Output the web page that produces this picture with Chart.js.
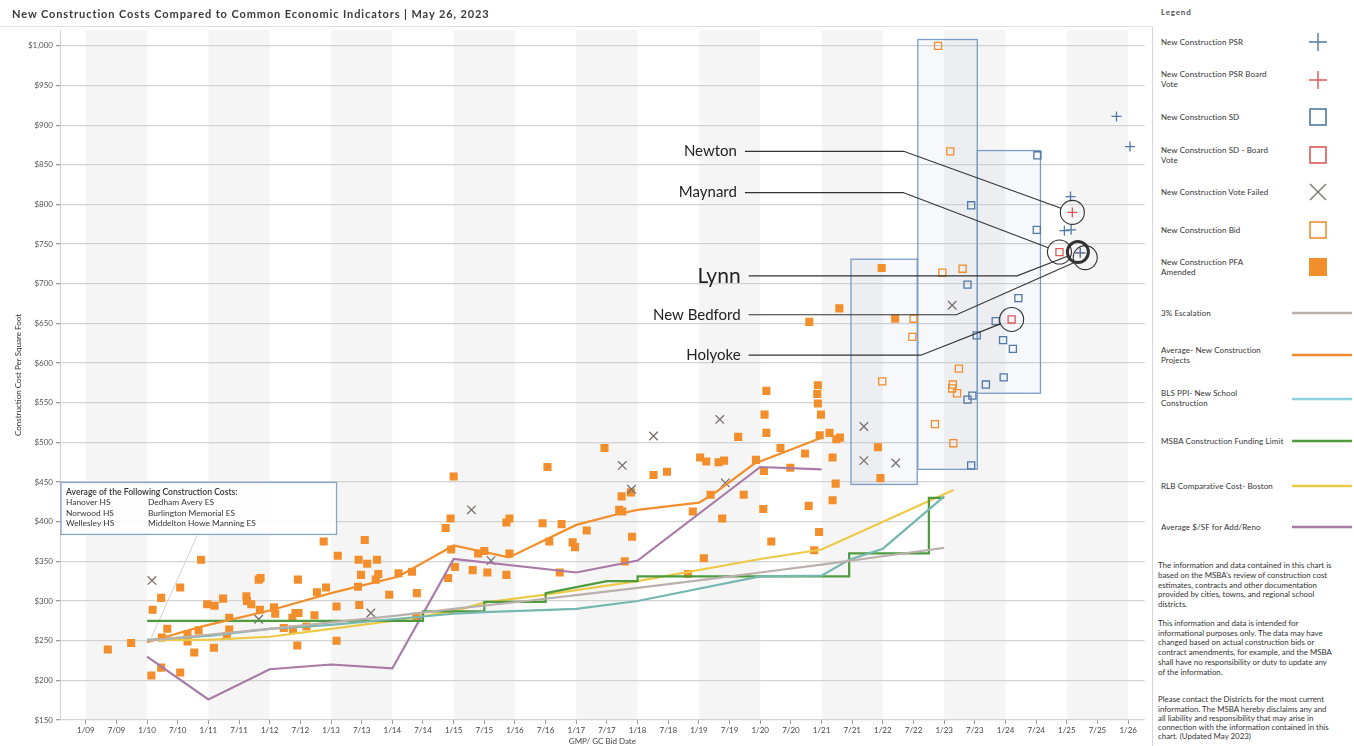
<!DOCTYPE html>
<html>
<head>
<meta charset="utf-8">
<script src="https://cdn.jsdelivr.net/npm/chart.js@4.4.0/dist/chart.umd.min.js"></script>
<style>
    body { margin: 0; background: #fff; font-family: Lato, "Open Sans", sans-serif; color: #333; }
    #wrap { position: relative; width: 1354px; height: 746px; overflow: hidden; background: #fff; }
    #chart { position: absolute; left: 0; top: 0; }
    #title { position: absolute; left: 12px; top: 7px; font-size: 11px; font-weight: 700; letter-spacing: 0.9px; color: #3a3a3a; white-space: nowrap; }
    #rule { position: absolute; left: 0; top: 26px; width: 1152px; border-top: 1px solid #e2e2e2; }
    #side { position: absolute; left: 1152px; top: 27px; width: 202px; height: 719px; border-left: 1px solid #d6d6d6; }
    .lg { position: absolute; left: 1161px; font-size: 8px; line-height: 10px; color: #333; white-space: nowrap; letter-spacing: 0.1px; }
    .mk { position: absolute; }
    #note { position: absolute; left: 1158px; top: 561px; font-size: 7.9px; line-height: 9.75px; color: #333; white-space: nowrap; }
    #note p { margin: 0; }
</style>
</head>
<body>
<div id="wrap">
    <canvas id="chart" width="1152" height="746"></canvas>
    <div id="title">New Construction Costs Compared to Common Economic Indicators | May 26, 2023</div>
    <div id="rule"></div>
    <div id="side"></div>

    <div class="lg" style="top:7px; font-weight:700; letter-spacing:0.8px; color:#555;">Legend</div>

    <div class="lg" style="top:37px">New Construction PSR</div>
    <svg class="mk" style="left:1308px; top:32px" width="20" height="20"><path d="M10 1V19M1 10H19" stroke="#4e79a7" stroke-width="1.4"/></svg>

    <div class="lg" style="top:69px">New Construction PSR Board<br>Vote</div>
    <svg class="mk" style="left:1308px; top:70px" width="20" height="20"><path d="M10 1V19M1 10H19" stroke="#e15759" stroke-width="1.4"/></svg>

    <div class="lg" style="top:112px">New Construction SD</div>
    <svg class="mk" style="left:1308px; top:107px" width="20" height="20"><rect x="2" y="2" width="16" height="16" fill="none" stroke="#4e79a7" stroke-width="1.6"/></svg>

    <div class="lg" style="top:145px">New Construction SD - Board<br>Vote</div>
    <svg class="mk" style="left:1308px; top:145px" width="20" height="20"><rect x="2" y="2" width="16" height="16" fill="none" stroke="#e15759" stroke-width="1.6"/></svg>

    <div class="lg" style="top:187px">New Construction Vote Failed</div>
    <svg class="mk" style="left:1308px; top:182px" width="20" height="20"><path d="M2 2L18 18M18 2L2 18" stroke="#79706e" stroke-width="1.3"/></svg>

    <div class="lg" style="top:225px">New Construction Bid</div>
    <svg class="mk" style="left:1308px; top:220px" width="20" height="20"><rect x="2" y="2" width="16" height="16" fill="none" stroke="#f28e2b" stroke-width="1.6"/></svg>

    <div class="lg" style="top:257px">New Construction PFA<br>Amended</div>
    <svg class="mk" style="left:1308px; top:257px" width="20" height="20"><rect x="1" y="1" width="18" height="18" fill="#f28e2b"/></svg>

    <div class="lg" style="top:308px">3% Escalation</div>
    <svg class="mk" style="left:1292px; top:310px" width="60" height="6"><path d="M0 3H60" stroke="#bab0ac" stroke-width="2.5"/></svg>

    <div class="lg" style="top:345px">Average- New Construction<br>Projects</div>
    <svg class="mk" style="left:1292px; top:352px" width="60" height="6"><path d="M0 3H60" stroke="#f28e2b" stroke-width="2.5"/></svg>

    <div class="lg" style="top:388px">BLS PPI- New School<br>Construction</div>
    <svg class="mk" style="left:1292px; top:396px" width="60" height="6"><path d="M0 3H60" stroke="#8fd1e3" stroke-width="2.5"/></svg>

    <div class="lg" style="top:436px">MSBA Construction Funding Limit</div>
    <svg class="mk" style="left:1292px; top:438px" width="60" height="6"><path d="M0 3H60" stroke="#4e9a3e" stroke-width="2.5"/></svg>

    <div class="lg" style="top:481px">RLB Comparative Cost- Boston</div>
    <svg class="mk" style="left:1292px; top:483px" width="60" height="6"><path d="M0 3H60" stroke="#edc948" stroke-width="2.5"/></svg>

    <div class="lg" style="top:522px">Average $/SF for Add/Reno</div>
    <svg class="mk" style="left:1292px; top:524px" width="60" height="6"><path d="M0 3H60" stroke="#a87aa5" stroke-width="2.5"/></svg>

    <div id="note">
        <p>The information and data contained in this chart is<br>based on the MSBA's review of construction cost<br>estimates, contracts and other documentation<br>provided by cities, towns, and regional school<br>districts.</p>
        <p style="margin-top:9px">This information and data is intended for<br>informational purposes only. The data may have<br>changed based on actual construction bids or<br>contract amendments, for example, and the MSBA<br>shall have no responsibility or duty to update any<br>of the information.</p>
        <p style="margin-top:18px; line-height:9.3px">Please contact the Districts for the most current<br>information. The MSBA hereby disclaims any and<br>all liability and responsibility that may arise in<br>connection with the information contained in this<br>chart. (Updated May 2023)</p>
    </div>
</div>

<script>
// x values are decimal years (2010.5 = July 2010), y values are $ per square foot
const xTickLabels = ["1/09", "7/09", "1/10", "7/10", "1/11", "7/11", "1/12", "7/12", "1/13", "7/13", "1/14", "7/14",
    "1/15", "7/15", "1/16", "7/16", "1/17", "7/17", "1/18", "7/18", "1/19", "7/19", "1/20", "7/20", "1/21", "7/21",
    "1/22", "7/22", "1/23", "7/23", "1/24", "7/24", "1/25", "7/25", "1/26"];
const yTickValues = [150, 200, 250, 300, 350, 400, 450, 500, 550, 600, 650, 700, 750, 800, 850, 900, 950, 1000];
const shadedYears = [2009, 2011, 2013, 2015, 2017, 2019, 2021, 2023, 2025];

const escalation = [[2010, 250], [2011, 257.5], [2012, 265], [2013, 273], [2014, 281], [2015, 290], [2016, 298.5],
    [2017, 307.5], [2018, 316.5], [2019, 326], [2020, 336], [2021, 346], [2022, 356.5], [2023, 367]];
const avgNewConstruction = [[2010, 248], [2010.9, 268], [2012, 288], [2013, 310], [2014.1, 331], [2015, 370],
    [2015.9, 355], [2017, 396], [2017.7, 410], [2018, 415], [2019, 424], [2019.2, 433], [2019.9, 473], [2021, 506]];
const blsPpi = [[2010, 251], [2011, 256], [2012, 265], [2013, 270], [2014, 277], [2015, 284], [2015.5, 286],
    [2017, 290], [2018, 300], [2020, 331], [2021, 332], [2021.45, 352], [2022, 366], [2023, 432]];
const msbaLimit = [[2010, 275], [2014.5, 275], [2014.5, 287], [2015.5, 287], [2015.5, 299], [2016.5, 299],
    [2016.5, 310], [2017.5, 325], [2018, 325], [2018, 331], [2021.45, 331], [2021.45, 360], [2022.75, 360],
    [2022.75, 430], [2023, 430]];
const rlbBoston = [[2010, 251], [2011, 251], [2012, 255], [2013, 265], [2014, 275], [2015, 287], [2015.5, 298],
    [2016.5, 308], [2018, 325], [2020, 353], [2021, 365], [2023.15, 440]];
const avgAddReno = [[2010, 230], [2011, 176], [2012, 214], [2013, 220], [2014, 215], [2015, 353], [2017, 336],
    [2018, 351], [2020, 469], [2021, 466]];

const pfaAmended = [[2009.36, 239], [2009.74, 247], [2010.07, 206], [2010.23, 216], [2010.54, 210], [2010.09, 289],
    [2010.23, 304], [2010.54, 317], [2010.33, 265], [2010.24, 254], [2010.88, 352], [2010.66, 258], [2010.66, 249],
    [2010.77, 235], [2010.84, 263], [2010.98, 296], [2011.10, 294], [2011.09, 241], [2011.24, 303], [2011.34, 279],
    [2011.34, 264], [2011.30, 256], [2011.62, 306], [2011.63, 300], [2011.70, 296], [2011.84, 289], [2011.82, 327],
    [2011.85, 329], [2012.07, 292], [2012.09, 284], [2012.23, 266], [2012.38, 264], [2012.37, 279], [2012.42, 285],
    [2012.47, 285], [2012.46, 327], [2012.45, 244], [2012.60, 268], [2012.73, 282], [2012.77, 311], [2012.88, 375],
    [2012.92, 317], [2013.09, 293], [2013.09, 250], [2013.11, 357], [2013.45, 352], [2013.55, 377], [2013.59, 347],
    [2013.75, 352], [2013.49, 333], [2013.44, 318], [2013.46, 295], [2013.77, 334], [2013.73, 327], [2013.95, 308],
    [2014.10, 335], [2014.32, 337], [2014.40, 310], [2014.39, 280], [2014.87, 392], [2014.95, 404], [2014.91, 329],
    [2014.96, 365], [2015.00, 457], [2015.02, 343], [2015.31, 339], [2015.55, 336], [2015.40, 360], [2015.50, 363],
    [2015.86, 333], [2015.91, 360], [2015.86, 399], [2015.91, 404], [2016.45, 398], [2016.53, 469], [2016.56, 375],
    [2016.76, 397], [2016.73, 336], [2016.94, 374], [2016.98, 368], [2017.17, 389], [2017.46, 493], [2017.74, 432],
    [2017.89, 437], [2017.70, 415], [2017.75, 413], [2017.91, 381], [2017.79, 350], [2018.26, 459], [2018.48, 463],
    [2018.90, 413], [2019.02, 481], [2019.12, 476], [2019.32, 475], [2019.41, 477], [2019.19, 434], [2019.08, 354],
    [2018.82, 334], [2019.64, 507], [2019.73, 434], [2019.38, 404], [2019.93, 478], [2020.06, 464], [2020.05, 416],
    [2020.10, 565], [2020.07, 535], [2020.10, 512], [2020.33, 493], [2020.18, 375], [2020.49, 468], [2020.73, 486],
    [2020.79, 420], [2020.88, 364], [2020.96, 387], [2020.94, 572], [2020.93, 561], [2020.94, 549], [2020.99, 535],
    [2020.97, 509], [2021.13, 512], [2021.24, 504], [2021.30, 506], [2021.18, 481], [2021.23, 448], [2021.18, 427],
    [2021.29, 669], [2020.80, 652], [2021.98, 720], [2022.20, 656], [2021.92, 494], [2021.96, 455]];
const constructionBid = [[2022.50, 656], [2022.48, 633], [2021.99, 577], [2022.90, 1000], [2023.10, 867],
    [2022.97, 714], [2023.30, 719], [2023.24, 593], [2023.14, 573], [2023.13, 568], [2023.21, 562], [2022.85, 523],
    [2023.15, 499]];
const constructionSD = [[2024.52, 862], [2023.44, 799], [2024.51, 768], [2023.38, 699], [2024.21, 682],
    [2023.84, 653], [2023.53, 635], [2023.96, 629], [2024.12, 618], [2023.97, 582], [2023.68, 573], [2023.46, 559],
    [2023.38, 554], [2023.44, 471]];
const sdBoardVote = [[2024.88, 740], [2024.10, 655]];
const constructionPSR = [[2025.81, 911], [2026.03, 873], [2025.06, 810], [2024.96, 767], [2025.07, 768], [2025.22, 739]];
const psrBoardVote = [[2025.09, 790], [2025.22, 739]];
const voteFailed = [[2010.08, 326], [2011.82, 277], [2013.65, 285], [2015.29, 415], [2015.61, 351], [2017.75, 471],
    [2017.90, 441], [2018.26, 508], [2019.34, 529], [2019.43, 449], [2021.69, 520], [2021.69, 477], [2022.21, 474],
    [2023.13, 673]];

// SD ranges shown as boxes: [fromYear, toYear, low, high]
const sdRanges = [[2021.48, 2022.56, 447, 731], [2022.57, 2023.54, 466, 1008], [2023.54, 2024.57, 562, 868]];

const callouts = [
    { name: "Newton", at: [2019.62, 867], elbow: 2022.34, ring: [2025.09, 790] },
    { name: "Maynard", at: [2019.62, 815], elbow: 2022.33, ring: [2024.88, 740] },
    { name: "Lynn", at: [2019.68, 710], elbow: 2024.19, ring: [2025.18, 740], big: true },
    { name: "New Bedford", at: [2019.68, 661], elbow: 2023.20, ring: [2025.30, 733] },
    { name: "Holyoke", at: [2019.68, 610], elbow: 2022.62, ring: [2024.10, 655] }
];
const avgNote = ["Average of the Following Construction Costs:",
    ["Hanover HS", "Dedham Avery ES"], ["Norwood HS", "Burlington Memorial ES"], ["Wellesley HS", "Middelton Howe Manning ES"]];

const FONT = "Lato, 'Open Sans', sans-serif";
const toXY = arr => arr.map(d => ({ x: d[0], y: d[1] }));

function lineSet(label, data, color, width) {
    return { type: "line", label: label, data: toXY(data), borderColor: color, borderWidth: width || 2.2,
        pointRadius: 0, fill: false, tension: 0, order: 1 };
}

function markSet(label, data, style, color, radius, filled) {
    return { type: "scatter", label: label, data: toXY(data), pointStyle: style, pointRadius: radius,
        pointBorderColor: color, pointBackgroundColor: filled ? color : "rgba(0,0,0,0)",
        pointBorderWidth: filled ? 0 : 1.3, order: 2 };
}

const backdrop = {
    id: "backdrop",
    beforeDraw(chart) {
        const { ctx, chartArea: a, scales: { x } } = chart;
        ctx.save();
        ctx.fillStyle = "#f5f5f5";
        shadedYears.forEach(yr => {
            const l = Math.max(x.getPixelForValue(yr), a.left);
            const r = Math.min(x.getPixelForValue(yr + 1), a.right);
            if (r > l) ctx.fillRect(l, a.top, r - l, a.bottom - a.top);
        });
        ctx.restore();
    },
    beforeDatasetsDraw(chart) {
        const { ctx, scales: { x, y } } = chart;
        ctx.save();
        sdRanges.forEach(r => {
            const l = x.getPixelForValue(r[0]), rt = x.getPixelForValue(r[1]);
            const t = y.getPixelForValue(r[3]), b = y.getPixelForValue(r[2]);
            ctx.fillStyle = "rgba(78,121,167,0.05)";
            ctx.fillRect(l, t, rt - l, b - t);
            ctx.strokeStyle = "#7a9cc6";
            ctx.lineWidth = 1.3;
            ctx.strokeRect(l, t, rt - l, b - t);
        });

        // note box with its leader to the 2010 starting point
        const bx = x.getPixelForValue(2008.58) + 1, by = y.getPixelForValue(449.5);
        const bw = x.getPixelForValue(2013.09) - bx, bh = y.getPixelForValue(384) - by;
        ctx.strokeStyle = "#cfcfcf";
        ctx.lineWidth = 1;
        ctx.beginPath();
        ctx.moveTo(x.getPixelForValue(2010.82), y.getPixelForValue(383));
        ctx.lineTo(x.getPixelForValue(2010.07), y.getPixelForValue(254));
        ctx.stroke();
        ctx.fillStyle = "rgba(255,255,255,0.85)";
        ctx.fillRect(bx, by, bw, bh);
        ctx.strokeStyle = "#8aa4c6";
        ctx.lineWidth = 1.3;
        ctx.strokeRect(bx, by, bw, bh);
        ctx.fillStyle = "#333";
        ctx.textBaseline = "middle";
        ctx.font = "600 8.6px " + FONT;
        ctx.fillText(avgNote[0], bx + 5, by + 9.5);
        ctx.font = "8.4px " + FONT;
        avgNote.slice(1).forEach((row, i) => {
            ctx.fillText(row[0], bx + 5, by + 20 + i * 10.5);
            ctx.fillText(row[1], bx + 87, by + 20 + i * 10.5);
        });
        ctx.restore();
    },
    afterDatasetsDraw(chart) {
        const { ctx, scales: { x, y } } = chart;
        ctx.save();
        ctx.strokeStyle = "#333";
        ctx.fillStyle = "#222";
        ctx.textAlign = "right";
        ctx.textBaseline = "middle";
        callouts.forEach(c => {
            const lx = x.getPixelForValue(c.at[0]), ly = y.getPixelForValue(c.at[1]);
            const ex = x.getPixelForValue(c.elbow);
            const cx = x.getPixelForValue(c.ring[0]), cy = y.getPixelForValue(c.ring[1]);
            const rad = c.big ? 10.5 : 12;
            const dx = cx - ex, dy = cy - ly, len = Math.hypot(dx, dy);
            ctx.lineWidth = 1.1;
            ctx.beginPath();
            ctx.moveTo(lx + 8, ly);
            ctx.lineTo(ex, ly);
            ctx.lineTo(cx - dx / len * rad, cy - dy / len * rad);
            ctx.stroke();
            ctx.lineWidth = c.big ? 3 : 1.1;
            ctx.beginPath();
            ctx.arc(cx, cy, rad, 0, Math.PI * 2);
            ctx.stroke();
            ctx.font = (c.big ? "21px " : "15px ") + FONT;
            ctx.fillText(c.name, lx, ly);
        });
        ctx.restore();
    }
};

const xTickValues = xTickLabels.map((_, i) => 2009 + i / 2);

new Chart(document.getElementById("chart"), {
    type: "scatter",
    data: {
        datasets: [
            lineSet("3% Escalation", escalation, "#bab0ac"),
            lineSet("Average- New Construction Projects", avgNewConstruction, "#f28e2b"),
            lineSet("BLS PPI- New School Construction", blsPpi, "#76b7b2"),
            lineSet("MSBA Construction Funding Limit", msbaLimit, "#4e9a3e"),
            lineSet("RLB Comparative Cost- Boston", rlbBoston, "#edc948"),
            lineSet("Average $/SF for Add/Reno", avgAddReno, "#a87aa5"),
            markSet("New Construction PSR", constructionPSR, "cross", "#4e79a7", 5),
            markSet("New Construction PSR Board Vote", psrBoardVote, "cross", "#e15759", 5),
            markSet("New Construction SD", constructionSD, "rect", "#4e79a7", 5),
            markSet("New Construction SD - Board Vote", sdBoardVote, "rect", "#e15759", 5),
            markSet("New Construction Vote Failed", voteFailed, "crossRot", "#79706e", 6),
            markSet("New Construction Bid", constructionBid, "rect", "#f28e2b", 5),
            markSet("New Construction PFA Amended", pfaAmended, "rect", "#f28e2b", 5.7, true)
        ]
    },
    options: {
        responsive: false,
        animation: false,
        devicePixelRatio: 1,
        layout: { padding: { top: 30, right: 2, left: 0, bottom: 0 } },
        plugins: { legend: { display: false }, tooltip: { enabled: false } },
        scales: {
            x: {
                type: "linear",
                min: 2008.58,
                max: 2026.27,
                afterBuildTicks: s => { s.ticks = xTickValues.map(v => ({ value: v })); },
                afterFit: s => { s.height = 26; },
                grid: { drawOnChartArea: false, tickLength: 4, color: "#999" },
                border: { display: false },
                ticks: { autoSkip: false, maxRotation: 0, padding: 2, color: "#444", font: { size: 8, family: FONT },
                    callback: (v, i) => xTickLabels[i] },
                title: { display: true, text: "GMP/ GC Bid Date", color: "#444", font: { size: 8, family: FONT },
                    padding: 0 }
            },
            y: {
                min: 150,
                max: 1020,
                afterBuildTicks: s => { s.ticks = yTickValues.map(v => ({ value: v })); },
                afterFit: s => { s.width = 60; },
                grid: { color: "#d3d3d3", lineWidth: 1.3, tickLength: 4, tickColor: "#999" },
                border: { display: true, color: "#d0d0d0" },
                ticks: { padding: 3, color: "#555", font: { size: 8, family: FONT },
                    callback: v => "$" + v.toLocaleString("en-US") },
                title: { display: true, text: "Construction Cost Per Square Foot", color: "#333",
                    font: { size: 8, family: FONT }, padding: { top: 14, bottom: 0 } }
            }
        }
    },
    plugins: [backdrop]
});
</script>
</body>
</html>
